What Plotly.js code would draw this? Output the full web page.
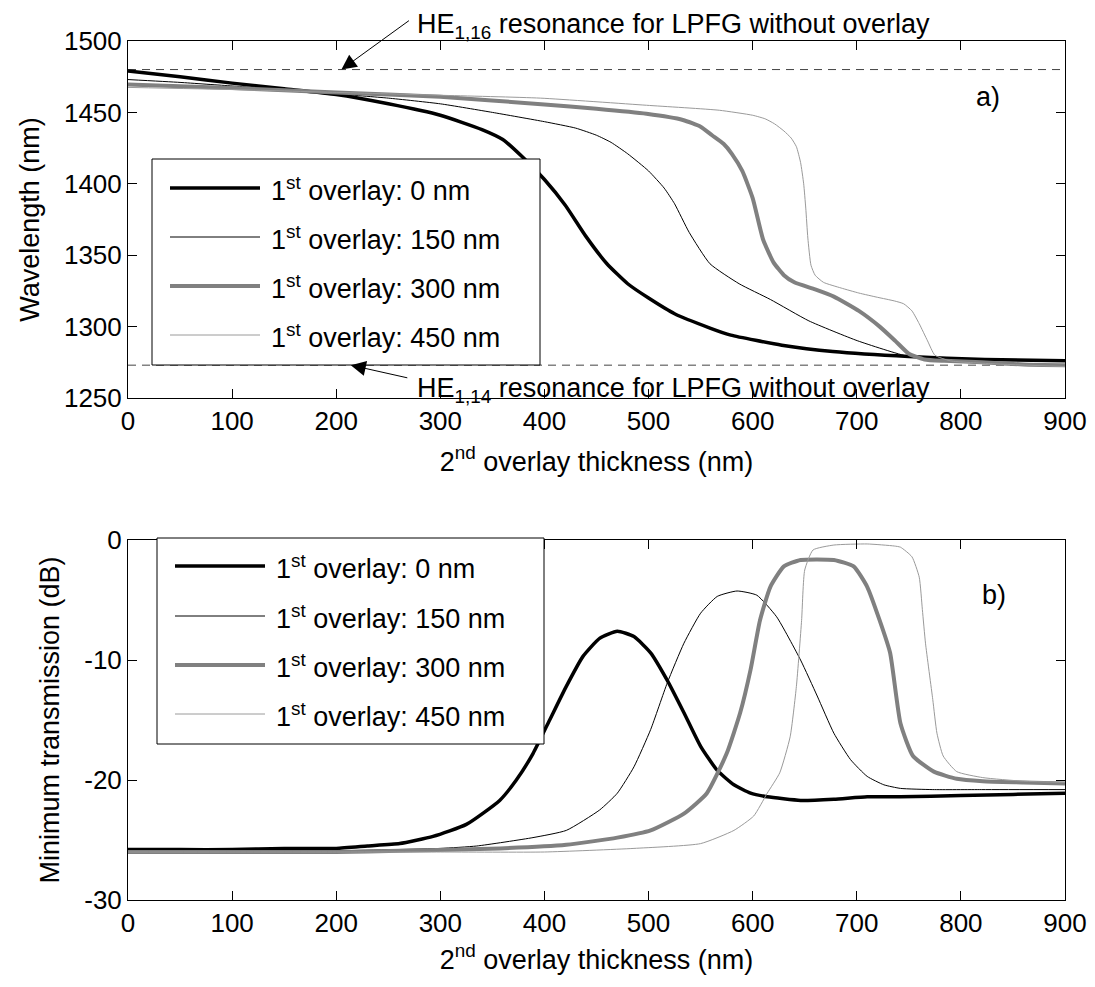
<!DOCTYPE html>
<html>
<head>
<meta charset="utf-8">
<script src="https://cdn.plot.ly/plotly-3.0.1.min.js"></script>
<style>
html,body{margin:0;padding:0;background:#fff;}
#chart{width:1095px;height:987px;}
</style>
</head>
<body>
<div id="chart"></div>
<script>
// ---------- DATA ----------
const seriesNames = ["1<sup>st</sup> overlay: 0 nm", "1<sup>st</sup> overlay: 150 nm", "1<sup>st</sup> overlay: 300 nm", "1<sup>st</sup> overlay: 450 nm"];

// (a) resonance wavelength (nm) vs 2nd overlay thickness (nm)
const aX0 = [0, 50, 100, 150, 200, 250, 300, 340, 360, 380, 400, 420, 440, 460, 480, 500, 525, 559, 579, 628, 677, 750, 823, 900];
const aY0 = [1479, 1475, 1470.5, 1466.5, 1462.5, 1456, 1448, 1438, 1431, 1418, 1403, 1385, 1363, 1344, 1330, 1320, 1309, 1299, 1294, 1287, 1282.5, 1279, 1277, 1276];

const aX150 = [0, 50, 100, 150, 200, 250, 300, 350, 400, 430, 450, 464, 480, 500, 515, 525, 539, 559, 587, 617, 654, 701, 750, 800, 850, 900];
const aY150 = [1473, 1471, 1468.5, 1466, 1463, 1460, 1456, 1450, 1443.5, 1439, 1434, 1429, 1421, 1409, 1397, 1386, 1366, 1344, 1330, 1319, 1304, 1290, 1279, 1276, 1274, 1273];

const aX300 = [0, 100, 200, 300, 400, 450, 498, 533, 550, 561, 572, 580, 590, 600, 610, 620, 630, 640, 660, 678, 702, 722, 737, 750, 765, 784, 820, 860, 900];
const aY300 = [1469.5, 1467, 1464, 1461, 1455.5, 1452.5, 1449, 1444.7, 1440, 1434, 1428, 1421, 1409, 1390, 1361, 1345, 1336, 1331, 1326, 1321, 1311, 1300, 1290, 1281, 1277, 1276, 1275, 1273.5, 1273];

const aX450 = [0, 100, 200, 300, 396, 498, 568, 600, 612, 621, 630, 637, 642, 646, 649, 651, 653, 656, 660, 668, 685, 702, 720, 736, 745, 753, 760, 768, 775, 790, 830, 900];
const aY450 = [1467.5, 1466, 1464, 1462, 1460, 1455, 1451.5, 1448, 1445.5, 1442, 1437, 1432, 1426, 1415, 1400, 1383, 1362, 1343, 1336, 1331, 1327, 1323.5, 1320.5, 1318, 1316, 1311, 1302, 1290, 1280, 1276, 1274, 1272];

// reference resonances of the LPFG without overlay
const resonanceHE116 = 1480;
const resonanceHE114 = 1273;

// (b) minimum transmission (dB) vs 2nd overlay thickness (nm)
const bX0 = [0, 50, 100, 150, 200, 230, 261, 293, 325, 357, 373, 389, 405, 421, 437, 453, 470, 486, 502, 518, 534, 550, 566, 582, 598, 614, 646, 678, 710, 742, 800, 850, 900];
const bY0 = [-25.8, -25.8, -25.8, -25.7, -25.7, -25.5, -25.3, -24.7, -23.7, -21.7, -20, -17.8, -15, -12.2, -9.7, -8.2, -7.6, -8.05, -9.4, -11.7, -14.4, -17.2, -19.2, -20.4, -21.1, -21.4, -21.7, -21.6, -21.4, -21.4, -21.3, -21.2, -21.1];

const bX150 = [0, 100, 200, 300, 335, 389, 421, 453, 470, 486, 502, 518, 534, 550, 566, 585, 604, 623, 646, 662, 678, 694, 710, 726, 742, 773, 820, 900];
const bY150 = [-26, -26, -25.9, -25.7, -25.5, -24.8, -24.2, -22.5, -21.1, -18.9, -15.8, -11.9, -8.6, -6.1, -4.7, -4.25, -4.6, -6.4, -10, -13, -16.1, -18.3, -19.7, -20.4, -20.7, -20.8, -20.8, -20.8];

const bX300 = [0, 100, 200, 261, 357, 421, 470, 502, 534, 556, 575, 588, 598, 607, 617, 630, 646, 678, 697, 710, 722, 732, 742, 754, 774, 796, 821, 860, 900];
const bY300 = [-26, -26, -26, -25.9, -25.7, -25.4, -24.8, -24.2, -22.8, -21.1, -17.8, -14.4, -10.8, -6.7, -3.9, -2.2, -1.67, -1.67, -2.2, -3.9, -6.7, -9.4, -15.3, -18, -19.3, -19.9, -20.1, -20.2, -20.3];

const bX450 = [0, 100, 200, 300, 400, 486, 550, 582, 601, 614, 626, 636, 642, 647, 650, 658, 678, 710, 736, 742, 753, 760, 763, 766, 773, 777, 783, 796, 821, 860, 900];
const bY450 = [-26, -26, -26, -26, -26, -25.7, -25.3, -24.2, -23, -21.1, -19.4, -16.4, -12.2, -6.7, -2.5, -0.83, -0.42, -0.33, -0.5, -0.6, -1.4, -3.1, -5.8, -8.6, -13.3, -16.1, -18, -19.3, -19.8, -20.1, -20.2];

const xTicks = [0, 100, 200, 300, 400, 500, 600, 700, 800, 900];
const aYTicks = [1250, 1300, 1350, 1400, 1450, 1500];
const bYTicks = [-30, -20, -10, 0];
const bYTickText = ["-30", "-20", "-10", "0"];

// ---------- STYLE ----------
const styles = [
  {color: '#000000', width: 3.5},
  {color: '#000000', width: 1},
  {color: '#808080', width: 4},
  {color: '#9a9a9a', width: 1}
];
const FONT = 'Liberation Sans, Arial, Helvetica, sans-serif';
const FS = 26;
const LFS = 27;

// pixel geometry helpers (plot area: x 128..1065, y 41..900)
const W = 1095, H = 987, ML = 128, MR = 30, MT = 41, MB = 87;
const PW = W - ML - MR, PH = H - MT - MB;
const px = v => (v - ML) / PW;
const py = v => (H - MB - v) / PH;

const aX = [aX0, aX150, aX300, aX450], aY = [aY0, aY150, aY300, aY450];
const bX = [bX0, bX150, bX300, bX450], bY = [bY0, bY150, bY300, bY450];

const traces = [];
// reference dashed lines (top panel)
[resonanceHE116, resonanceHE114].forEach(r => {
  traces.push({x: [0, 900], y: [r, r], xaxis: 'x', yaxis: 'y', mode: 'lines',
    line: {color: '#444', width: 1, dash: '8px,6px'}, showlegend: false, hoverinfo: 'skip'});
});
for (let i = 0; i < 4; i++) {
  traces.push({x: aX[i], y: aY[i], xaxis: 'x', yaxis: 'y', mode: 'lines', name: seriesNames[i],
    line: {color: styles[i].color, width: styles[i].width, shape: 'spline', smoothing: 0.5}, showlegend: false});
}
for (let i = 0; i < 4; i++) {
  traces.push({x: bX[i], y: bY[i], xaxis: 'x2', yaxis: 'y2', mode: 'lines', name: seriesNames[i],
    line: {color: styles[i].color, width: styles[i].width, shape: 'spline', smoothing: 0.5}, showlegend: false});
}

// ---------- custom MATLAB-style legends ----------
const shapes = [];
const annotations = [];
function legend(box, rows) {
  shapes.push({type: 'rect', xref: 'paper', yref: 'paper', layer: 'above',
    x0: px(box.x0), x1: px(box.x1), y0: py(box.y1), y1: py(box.y0),
    line: {color: '#000', width: 1}, fillcolor: '#fff'});
  rows.forEach((ry, i) => {
    shapes.push({type: 'line', xref: 'paper', yref: 'paper', layer: 'above',
      x0: px(box.lx0), x1: px(box.lx1), y0: py(ry), y1: py(ry),
      line: {color: styles[i].color, width: styles[i].width}});
    annotations.push({xref: 'paper', yref: 'paper', x: px(box.tx), y: py(ry + 1),
      xanchor: 'left', yanchor: 'middle', showarrow: false, text: seriesNames[i],
      font: {family: FONT, size: LFS, color: '#000'}});
  });
}
legend({x0: 152, x1: 540, y0: 159, y1: 365, lx0: 170, lx1: 260, tx: 269}, [188, 237, 286, 335]);
legend({x0: 157, x1: 544, y0: 538, y1: 744, lx0: 175, lx1: 265, tx: 274}, [566, 616, 665, 714]);

// resonance annotations
annotations.push({xref: 'paper', yref: 'paper', x: px(415), y: py(26), xanchor: 'left', yanchor: 'middle',
  showarrow: false, text: 'HE<sub>1,16</sub> resonance for LPFG without overlay', font: {family: FONT, size: LFS, color: '#000'}});
annotations.push({xref: 'x', yref: 'y', x: 205, y: resonanceHE116, text: '', showarrow: true,
  axref: 'pixel', ayref: 'pixel', ax: 69, ay: -50, arrowhead: 2, arrowsize: 3, arrowwidth: 1, arrowcolor: '#000'});
annotations.push({xref: 'paper', yref: 'paper', x: px(415), y: py(390), xanchor: 'left', yanchor: 'middle',
  showarrow: false, text: 'HE<sub>1,14</sub> resonance for LPFG without overlay', font: {family: FONT, size: LFS, color: '#000'}});
annotations.push({xref: 'x', yref: 'y', x: 214, y: resonanceHE114, text: '', showarrow: true,
  axref: 'pixel', ayref: 'pixel', ax: 58, ay: 13, arrowhead: 2, arrowsize: 3, arrowwidth: 1, arrowcolor: '#000'});
annotations.push({xref: 'paper', yref: 'paper', x: px(988), y: py(97), xanchor: 'center', yanchor: 'middle',
  showarrow: false, text: 'a)', font: {family: FONT, size: LFS, color: '#000'}});
annotations.push({xref: 'paper', yref: 'paper', x: px(994), y: py(595), xanchor: 'center', yanchor: 'middle',
  showarrow: false, text: 'b)', font: {family: FONT, size: LFS, color: '#000'}});

const axCommon = {
  showgrid: false, zeroline: false, showline: true, linecolor: '#000', linewidth: 1,
  mirror: 'ticks', ticks: 'inside', ticklen: 9, tickwidth: 1, tickcolor: '#000',
  tickfont: {family: FONT, size: FS, color: '#000'}, automargin: false
};
const xTitle = '2<sup>nd</sup> overlay thickness (nm)';
const layout = {
  width: W, height: H,
  margin: {l: ML, r: MR, t: MT, b: MB},
  paper_bgcolor: '#fff', plot_bgcolor: '#fff',
  showlegend: false,
  font: {family: FONT, size: FS, color: '#000'},
  xaxis: Object.assign({}, axCommon, {domain: [0, 1], range: [0, 900], anchor: 'y', tickvals: xTicks,
    title: {text: xTitle, font: {family: FONT, size: LFS}, standoff: 16}}),
  yaxis: Object.assign({}, axCommon, {domain: [py(398), 1], range: [1250, 1500], anchor: 'x', tickvals: aYTicks,
    title: {text: 'Wavelength (nm)', font: {family: FONT, size: LFS}, standoff: 16}}),
  xaxis2: Object.assign({}, axCommon, {domain: [0, 1], range: [0, 900], anchor: 'y2', tickvals: xTicks,
    title: {text: xTitle, font: {family: FONT, size: LFS}, standoff: 12}}),
  yaxis2: Object.assign({}, axCommon, {domain: [0, py(540)], range: [-30, 0], anchor: 'x2', tickvals: bYTicks, ticktext: bYTickText,
    title: {text: 'Minimum transmission (dB)', font: {family: FONT, size: LFS}, standoff: 16}}),
  shapes: shapes,
  annotations: annotations
};
Plotly.newPlot('chart', traces, layout, {staticPlot: true, displayModeBar: false});
</script>
</body>
</html>
